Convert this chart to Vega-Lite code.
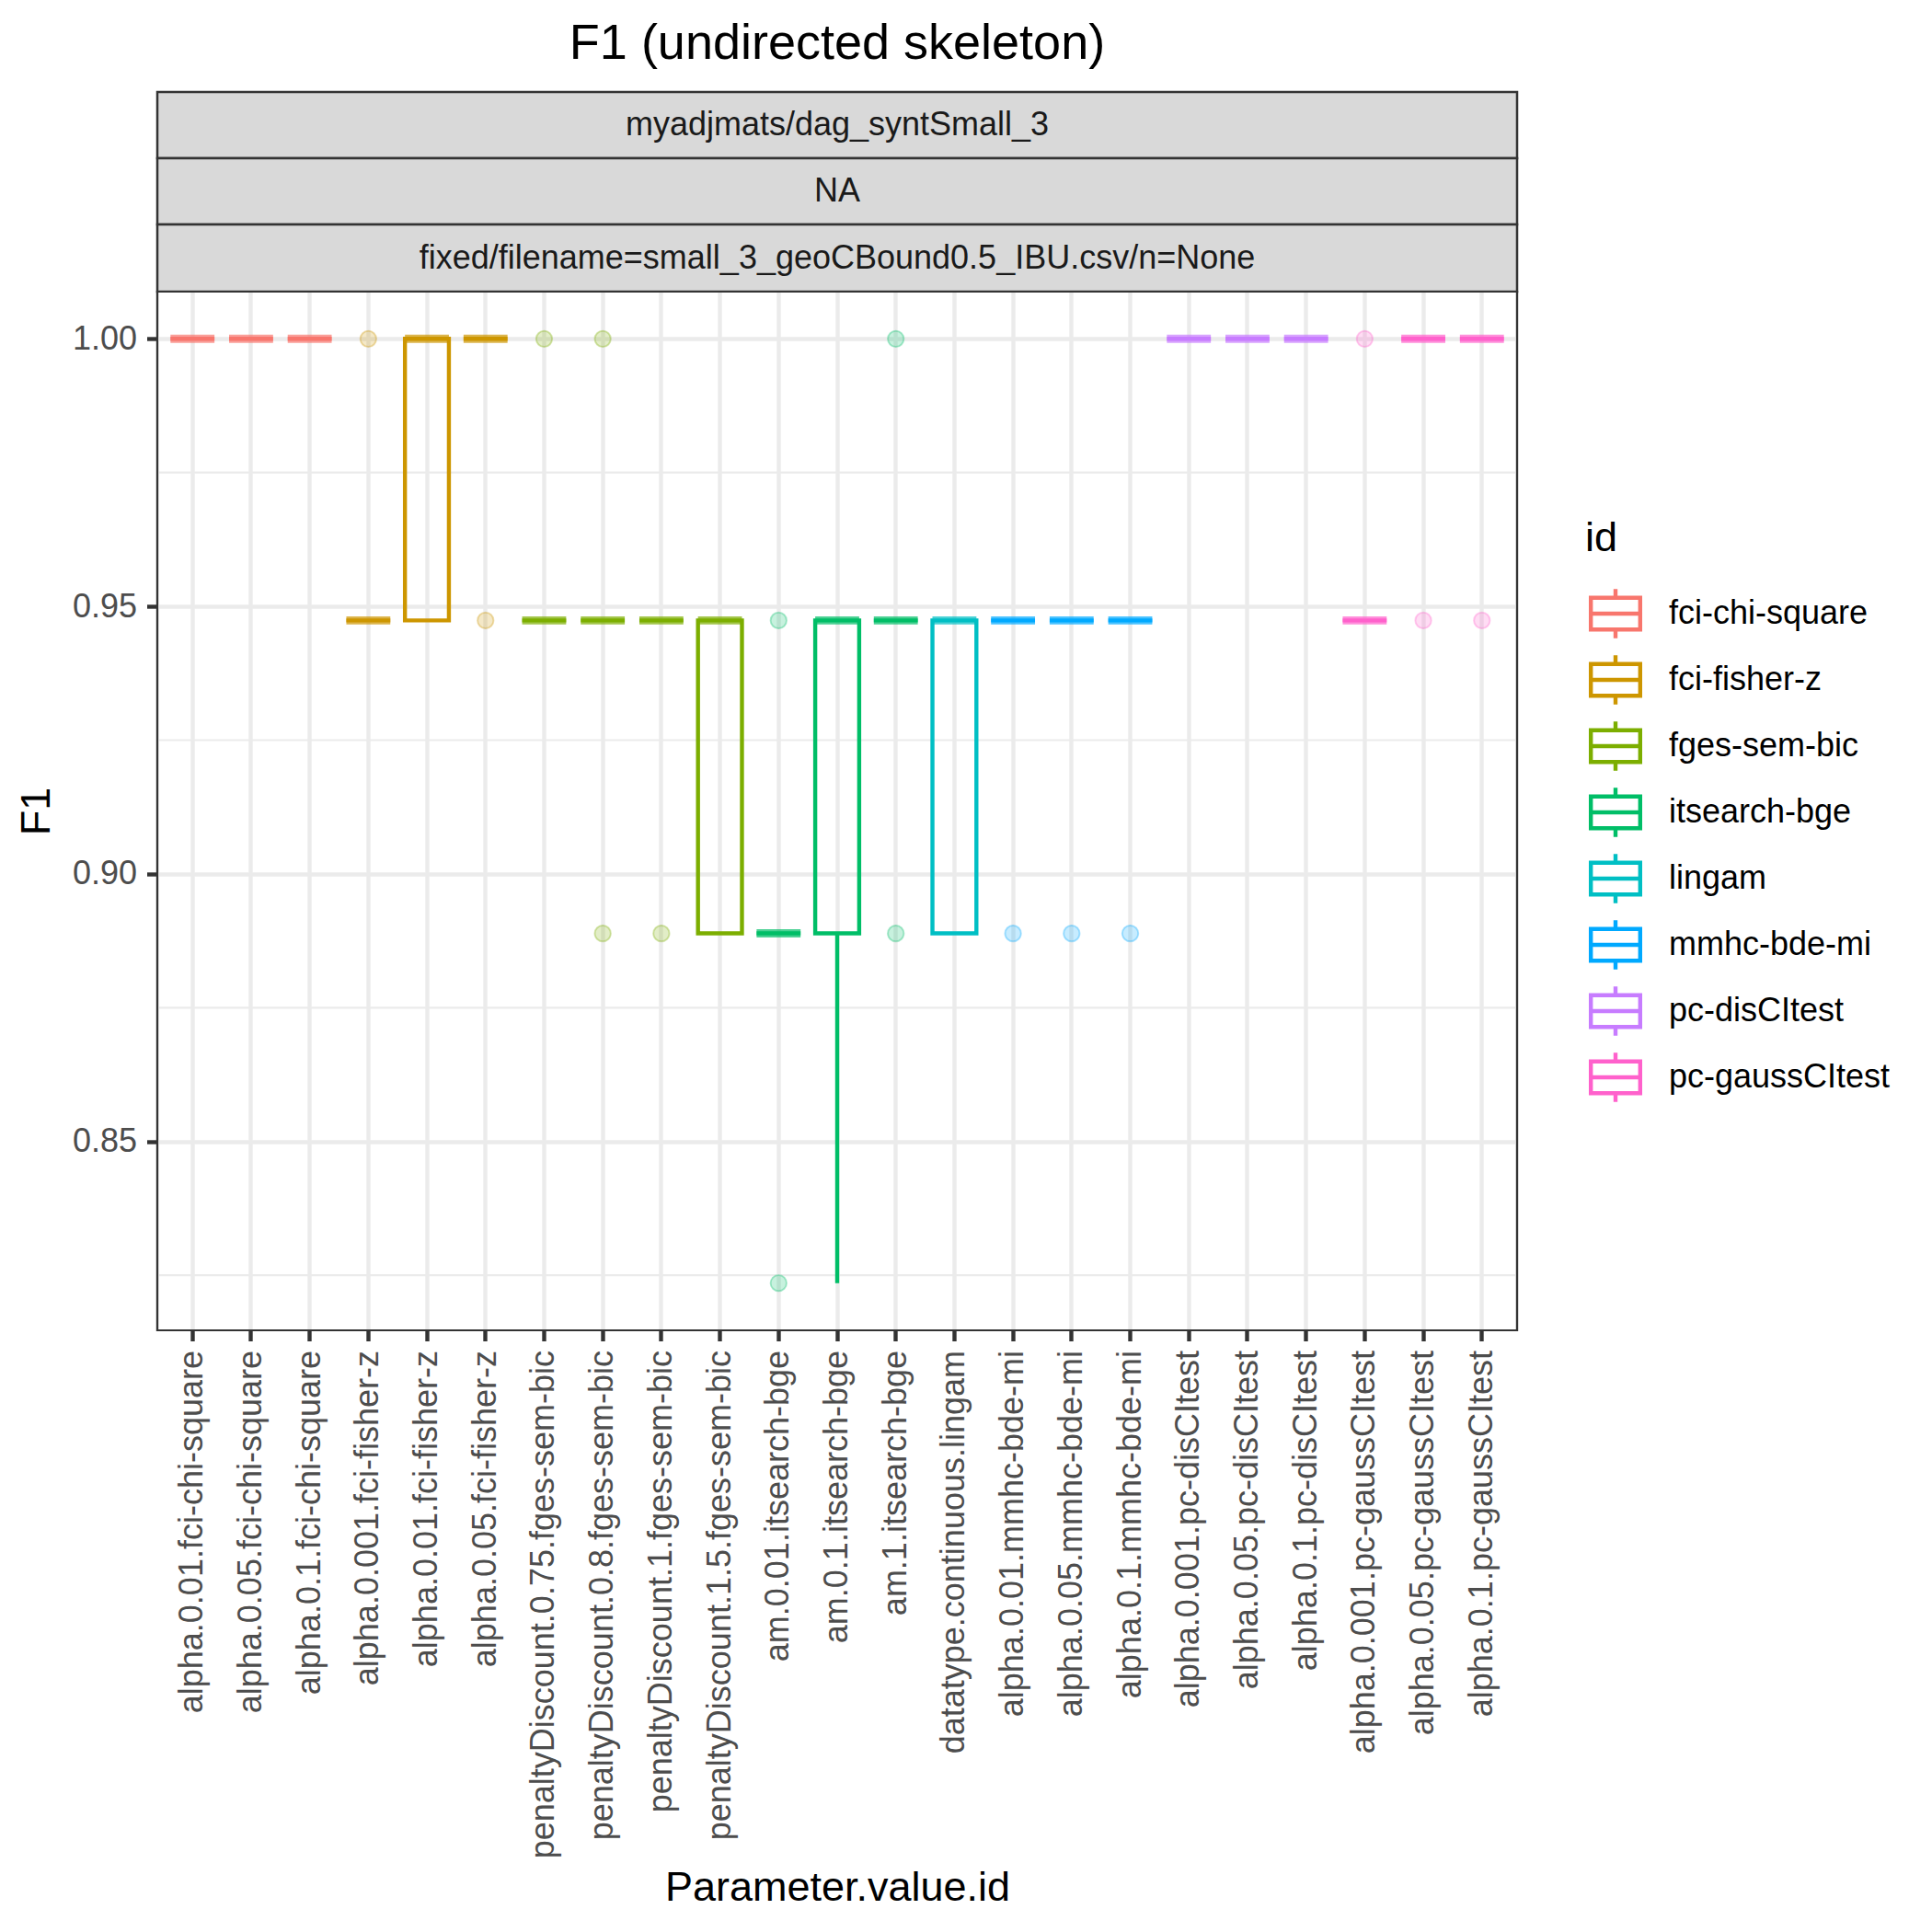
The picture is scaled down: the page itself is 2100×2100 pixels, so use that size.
{
  "$schema": "https://vega.github.io/schema/vega-lite/v6.json",
  "background": "white",
  "padding": {"left": 16, "top": 19, "right": 440, "bottom": 10},
  "config": {
    "font": "Liberation Sans",
    "view": {"stroke": null},
    "axisX": {
      "labelAngle": 270, "labelAlign": "right", "labelBaseline": "middle",
      "labelFontSize": 36, "labelColor": "#4D4D4D", "labelLimit": 2000, "labelPadding": 10,
      "labelOverlap": false, "tickColor": "#333333", "tickSize": 11.5, "tickWidth": 4.4,
      "domain": false, "grid": true, "gridColor": "#EBEBEB", "gridWidth": 4.4,
      "titleFontSize": 45, "titleFontWeight": "normal", "titleColor": "black", "titlePadding": 383
    },
    "axisY": {
      "labelFontSize": 36, "labelColor": "#4D4D4D", "labelPadding": 11,
      "tickColor": "#333333", "tickSize": 11.5, "tickWidth": 4.4,
      "domain": false, "grid": true, "gridColor": "#EBEBEB", "gridWidth": 4.4,
      "titleFontSize": 45, "titleFontWeight": "normal", "titleColor": "black", "titlePadding": 16
    }
  },
  "datasets": {
    "boxes": [
      {"param": "alpha.0.01.fci-chi-square", "id": "fci-chi-square", "lower": 1, "q1": 1, "median": 1, "q3": 1, "upper": 1},
      {"param": "alpha.0.05.fci-chi-square", "id": "fci-chi-square", "lower": 1, "q1": 1, "median": 1, "q3": 1, "upper": 1},
      {"param": "alpha.0.1.fci-chi-square", "id": "fci-chi-square", "lower": 1, "q1": 1, "median": 1, "q3": 1, "upper": 1},
      {"param": "alpha.0.001.fci-fisher-z", "id": "fci-fisher-z", "lower": 0.947368, "q1": 0.947368, "median": 0.947368, "q3": 0.947368, "upper": 0.947368},
      {"param": "alpha.0.01.fci-fisher-z", "id": "fci-fisher-z", "lower": 0.947368, "q1": 0.947368, "median": 1, "q3": 1, "upper": 1},
      {"param": "alpha.0.05.fci-fisher-z", "id": "fci-fisher-z", "lower": 1, "q1": 1, "median": 1, "q3": 1, "upper": 1},
      {"param": "penaltyDiscount.0.75.fges-sem-bic", "id": "fges-sem-bic", "lower": 0.947368, "q1": 0.947368, "median": 0.947368, "q3": 0.947368, "upper": 0.947368},
      {"param": "penaltyDiscount.0.8.fges-sem-bic", "id": "fges-sem-bic", "lower": 0.947368, "q1": 0.947368, "median": 0.947368, "q3": 0.947368, "upper": 0.947368},
      {"param": "penaltyDiscount.1.fges-sem-bic", "id": "fges-sem-bic", "lower": 0.947368, "q1": 0.947368, "median": 0.947368, "q3": 0.947368, "upper": 0.947368},
      {"param": "penaltyDiscount.1.5.fges-sem-bic", "id": "fges-sem-bic", "lower": 0.888889, "q1": 0.888889, "median": 0.947368, "q3": 0.947368, "upper": 0.947368},
      {"param": "am.0.01.itsearch-bge", "id": "itsearch-bge", "lower": 0.888889, "q1": 0.888889, "median": 0.888889, "q3": 0.888889, "upper": 0.888889},
      {"param": "am.0.1.itsearch-bge", "id": "itsearch-bge", "lower": 0.823529, "q1": 0.888889, "median": 0.947368, "q3": 0.947368, "upper": 0.947368},
      {"param": "am.1.itsearch-bge", "id": "itsearch-bge", "lower": 0.947368, "q1": 0.947368, "median": 0.947368, "q3": 0.947368, "upper": 0.947368},
      {"param": "datatype.continuous.lingam", "id": "lingam", "lower": 0.888889, "q1": 0.888889, "median": 0.947368, "q3": 0.947368, "upper": 0.947368},
      {"param": "alpha.0.01.mmhc-bde-mi", "id": "mmhc-bde-mi", "lower": 0.947368, "q1": 0.947368, "median": 0.947368, "q3": 0.947368, "upper": 0.947368},
      {"param": "alpha.0.05.mmhc-bde-mi", "id": "mmhc-bde-mi", "lower": 0.947368, "q1": 0.947368, "median": 0.947368, "q3": 0.947368, "upper": 0.947368},
      {"param": "alpha.0.1.mmhc-bde-mi", "id": "mmhc-bde-mi", "lower": 0.947368, "q1": 0.947368, "median": 0.947368, "q3": 0.947368, "upper": 0.947368},
      {"param": "alpha.0.001.pc-disCItest", "id": "pc-disCItest", "lower": 1, "q1": 1, "median": 1, "q3": 1, "upper": 1},
      {"param": "alpha.0.05.pc-disCItest", "id": "pc-disCItest", "lower": 1, "q1": 1, "median": 1, "q3": 1, "upper": 1},
      {"param": "alpha.0.1.pc-disCItest", "id": "pc-disCItest", "lower": 1, "q1": 1, "median": 1, "q3": 1, "upper": 1},
      {"param": "alpha.0.001.pc-gaussCItest", "id": "pc-gaussCItest", "lower": 0.947368, "q1": 0.947368, "median": 0.947368, "q3": 0.947368, "upper": 0.947368},
      {"param": "alpha.0.05.pc-gaussCItest", "id": "pc-gaussCItest", "lower": 1, "q1": 1, "median": 1, "q3": 1, "upper": 1},
      {"param": "alpha.0.1.pc-gaussCItest", "id": "pc-gaussCItest", "lower": 1, "q1": 1, "median": 1, "q3": 1, "upper": 1}
    ],
    "outliers": [
      {"param": "alpha.0.001.fci-fisher-z", "id": "fci-fisher-z", "F1": 1},
      {"param": "alpha.0.05.fci-fisher-z", "id": "fci-fisher-z", "F1": 0.947368},
      {"param": "penaltyDiscount.0.75.fges-sem-bic", "id": "fges-sem-bic", "F1": 1},
      {"param": "penaltyDiscount.0.8.fges-sem-bic", "id": "fges-sem-bic", "F1": 1},
      {"param": "penaltyDiscount.0.8.fges-sem-bic", "id": "fges-sem-bic", "F1": 0.888889},
      {"param": "penaltyDiscount.1.fges-sem-bic", "id": "fges-sem-bic", "F1": 0.888889},
      {"param": "am.0.01.itsearch-bge", "id": "itsearch-bge", "F1": 0.947368},
      {"param": "am.0.01.itsearch-bge", "id": "itsearch-bge", "F1": 0.823529},
      {"param": "am.1.itsearch-bge", "id": "itsearch-bge", "F1": 1},
      {"param": "am.1.itsearch-bge", "id": "itsearch-bge", "F1": 0.888889},
      {"param": "alpha.0.01.mmhc-bde-mi", "id": "mmhc-bde-mi", "F1": 0.888889},
      {"param": "alpha.0.05.mmhc-bde-mi", "id": "mmhc-bde-mi", "F1": 0.888889},
      {"param": "alpha.0.1.mmhc-bde-mi", "id": "mmhc-bde-mi", "F1": 0.888889},
      {"param": "alpha.0.001.pc-gaussCItest", "id": "pc-gaussCItest", "F1": 1},
      {"param": "alpha.0.05.pc-gaussCItest", "id": "pc-gaussCItest", "F1": 0.947368},
      {"param": "alpha.0.1.pc-gaussCItest", "id": "pc-gaussCItest", "F1": 0.947368}
    ],
    "minor": [{"g": 0.825}, {"g": 0.875}, {"g": 0.925}, {"g": 0.975}]
  },
  "spacing": 0,
  "bounds": "flush",
  "resolve": {"scale": {"color": "independent", "stroke": "independent"}, "legend": {"color": "independent", "stroke": "independent"}},
  "vconcat": [
    {
      "width": 1478, "height": 72,
      "view": {"fill": "#D9D9D9", "stroke": "#333333", "strokeWidth": 2.5},
      "title": {"text": "F1 (undirected skeleton)", "fontSize": 54, "fontWeight": "normal", "color": "black", "anchor": "middle", "offset": 25, "font": "Liberation Sans"},
      "data": {"values": [{"label": "myadjmats/dag_syntSmall_3"}]},
      "mark": {"type": "text", "fontSize": 36, "color": "#1A1A1A", "baseline": "middle", "align": "center"},
      "encoding": {"text": {"field": "label", "type": "nominal"}}
    },
    {
      "width": 1478, "height": 72,
      "view": {"fill": "#D9D9D9", "stroke": "#333333", "strokeWidth": 2.5},
      "data": {"values": [{"label": "NA"}]},
      "mark": {"type": "text", "fontSize": 36, "color": "#1A1A1A", "baseline": "middle", "align": "center"},
      "encoding": {"text": {"field": "label", "type": "nominal"}}
    },
    {
      "width": 1478, "height": 73,
      "view": {"fill": "#D9D9D9", "stroke": "#333333", "strokeWidth": 2.5},
      "data": {"values": [{"label": "fixed/filename=small_3_geoCBound0.5_IBU.csv/n=None"}]},
      "mark": {"type": "text", "fontSize": 36, "color": "#1A1A1A", "baseline": "middle", "align": "center"},
      "encoding": {"text": {"field": "label", "type": "nominal"}}
    },
    {
      "width": 1478, "height": 1129,
      "view": {"fill": "white", "stroke": "#333333", "strokeWidth": 2.2},
      "layer": [
        {
          "data": {"name": "minor"},
          "mark": {"type": "rule", "color": "#EBEBEB", "strokeWidth": 2.2},
          "encoding": {
            "y": {"field": "g", "type": "quantitative", "title": "F1", "scale": {"domain": [0.81471, 1.00882], "nice": false, "zero": false}, "axis": {"values": [0.85, 0.9, 0.95, 1.0], "format": ".2f"}}
          }
        },
        {
          "data": {"name": "boxes"},
          "mark": {"type": "bar", "filled": false, "fill": "transparent", "width": {"band": 0.75}, "strokeWidth": 4.4, "strokeJoin": "miter"},
          "encoding": {
            "x": {"field": "param", "type": "nominal", "title": "Parameter.value.id", "sort": null, "scale": {"domain": ["alpha.0.01.fci-chi-square","alpha.0.05.fci-chi-square","alpha.0.1.fci-chi-square","alpha.0.001.fci-fisher-z","alpha.0.01.fci-fisher-z","alpha.0.05.fci-fisher-z","penaltyDiscount.0.75.fges-sem-bic","penaltyDiscount.0.8.fges-sem-bic","penaltyDiscount.1.fges-sem-bic","penaltyDiscount.1.5.fges-sem-bic","am.0.01.itsearch-bge","am.0.1.itsearch-bge","am.1.itsearch-bge","datatype.continuous.lingam","alpha.0.01.mmhc-bde-mi","alpha.0.05.mmhc-bde-mi","alpha.0.1.mmhc-bde-mi","alpha.0.001.pc-disCItest","alpha.0.05.pc-disCItest","alpha.0.1.pc-disCItest","alpha.0.001.pc-gaussCItest","alpha.0.05.pc-gaussCItest","alpha.0.1.pc-gaussCItest"], "paddingInner": 0, "paddingOuter": 0.1}},
            "y": {"field": "q1", "type": "quantitative", "title": "F1", "scale": {"domain": [0.81471, 1.00882], "nice": false, "zero": false}, "axis": {"values": [0.85, 0.9, 0.95, 1.0], "format": ".2f"}},
            "y2": {"field": "q3"},
            "stroke": {"field": "id", "type": "nominal", "scale": {"domain": ["fci-chi-square","fci-fisher-z","fges-sem-bic","itsearch-bge","lingam","mmhc-bde-mi","pc-disCItest","pc-gaussCItest"], "range": ["#F8766D","#CD9600","#7CAE00","#00BE67","#00BFC4","#00A9FF","#C77CFF","#FF61CC"]},
              "legend": {"title": "id", "orient": "none", "legendX": 1552, "legendY": 246, "padding": 0,
                "titleFontSize": 45, "titleFontWeight": "normal", "titleColor": "black", "titlePadding": 26,
                "labelFontSize": 36, "labelColor": "black", "labelOffset": 25, "labelLimit": 1000, "rowPadding": 0,
                "symbolType": "M-0.876,-0.565H0.876V0.565H-0.876Z M0,-0.565V-0.872 M0,0.565V0.872 M-0.876,0H0.876",
                "symbolSize": 3745, "symbolStrokeWidth": 4.4, "symbolFillColor": "transparent", "symbolOpacity": 1,
                "encode": {"symbols": {"fill": {"value": "transparent"}, "opacity": {"value": 1}, "strokeWidth": {"value": 4.4}}}}}
          }
        },
        {
          "data": {"name": "boxes"},
          "mark": {"type": "rule", "strokeWidth": 4.4},
          "encoding": {
            "x": {"field": "param", "type": "nominal", "title": "Parameter.value.id", "sort": null, "scale": {"domain": ["alpha.0.01.fci-chi-square","alpha.0.05.fci-chi-square","alpha.0.1.fci-chi-square","alpha.0.001.fci-fisher-z","alpha.0.01.fci-fisher-z","alpha.0.05.fci-fisher-z","penaltyDiscount.0.75.fges-sem-bic","penaltyDiscount.0.8.fges-sem-bic","penaltyDiscount.1.fges-sem-bic","penaltyDiscount.1.5.fges-sem-bic","am.0.01.itsearch-bge","am.0.1.itsearch-bge","am.1.itsearch-bge","datatype.continuous.lingam","alpha.0.01.mmhc-bde-mi","alpha.0.05.mmhc-bde-mi","alpha.0.1.mmhc-bde-mi","alpha.0.001.pc-disCItest","alpha.0.05.pc-disCItest","alpha.0.1.pc-disCItest","alpha.0.001.pc-gaussCItest","alpha.0.05.pc-gaussCItest","alpha.0.1.pc-gaussCItest"], "paddingInner": 0, "paddingOuter": 0.1}},
            "y": {"field": "lower", "type": "quantitative", "title": "F1", "scale": {"domain": [0.81471, 1.00882], "nice": false, "zero": false}, "axis": {"values": [0.85, 0.9, 0.95, 1.0], "format": ".2f"}},
            "y2": {"field": "q1"},
            "color": {"field": "id", "type": "nominal", "scale": {"domain": ["pc-gaussCItest","pc-disCItest","mmhc-bde-mi","lingam","itsearch-bge","fges-sem-bic","fci-fisher-z","fci-chi-square"], "range": ["#FF61CC","#C77CFF","#00A9FF","#00BFC4","#00BE67","#7CAE00","#CD9600","#F8766D"]}, "legend": null}
          }
        },
        {
          "data": {"name": "boxes"},
          "mark": {"type": "rule", "strokeWidth": 4.4},
          "encoding": {
            "x": {"field": "param", "type": "nominal", "title": "Parameter.value.id", "sort": null, "scale": {"domain": ["alpha.0.01.fci-chi-square","alpha.0.05.fci-chi-square","alpha.0.1.fci-chi-square","alpha.0.001.fci-fisher-z","alpha.0.01.fci-fisher-z","alpha.0.05.fci-fisher-z","penaltyDiscount.0.75.fges-sem-bic","penaltyDiscount.0.8.fges-sem-bic","penaltyDiscount.1.fges-sem-bic","penaltyDiscount.1.5.fges-sem-bic","am.0.01.itsearch-bge","am.0.1.itsearch-bge","am.1.itsearch-bge","datatype.continuous.lingam","alpha.0.01.mmhc-bde-mi","alpha.0.05.mmhc-bde-mi","alpha.0.1.mmhc-bde-mi","alpha.0.001.pc-disCItest","alpha.0.05.pc-disCItest","alpha.0.1.pc-disCItest","alpha.0.001.pc-gaussCItest","alpha.0.05.pc-gaussCItest","alpha.0.1.pc-gaussCItest"], "paddingInner": 0, "paddingOuter": 0.1}},
            "y": {"field": "q3", "type": "quantitative", "title": "F1", "scale": {"domain": [0.81471, 1.00882], "nice": false, "zero": false}, "axis": {"values": [0.85, 0.9, 0.95, 1.0], "format": ".2f"}},
            "y2": {"field": "upper"},
            "color": {"field": "id", "type": "nominal", "scale": {"domain": ["pc-gaussCItest","pc-disCItest","mmhc-bde-mi","lingam","itsearch-bge","fges-sem-bic","fci-fisher-z","fci-chi-square"], "range": ["#FF61CC","#C77CFF","#00A9FF","#00BFC4","#00BE67","#7CAE00","#CD9600","#F8766D"]}, "legend": null}
          }
        },
        {
          "data": {"name": "boxes"},
          "mark": {"type": "tick", "thickness": 8.9, "size": 47.8},
          "encoding": {
            "x": {"field": "param", "type": "nominal", "title": "Parameter.value.id", "sort": null, "scale": {"domain": ["alpha.0.01.fci-chi-square","alpha.0.05.fci-chi-square","alpha.0.1.fci-chi-square","alpha.0.001.fci-fisher-z","alpha.0.01.fci-fisher-z","alpha.0.05.fci-fisher-z","penaltyDiscount.0.75.fges-sem-bic","penaltyDiscount.0.8.fges-sem-bic","penaltyDiscount.1.fges-sem-bic","penaltyDiscount.1.5.fges-sem-bic","am.0.01.itsearch-bge","am.0.1.itsearch-bge","am.1.itsearch-bge","datatype.continuous.lingam","alpha.0.01.mmhc-bde-mi","alpha.0.05.mmhc-bde-mi","alpha.0.1.mmhc-bde-mi","alpha.0.001.pc-disCItest","alpha.0.05.pc-disCItest","alpha.0.1.pc-disCItest","alpha.0.001.pc-gaussCItest","alpha.0.05.pc-gaussCItest","alpha.0.1.pc-gaussCItest"], "paddingInner": 0, "paddingOuter": 0.1}},
            "y": {"field": "median", "type": "quantitative", "title": "F1", "scale": {"domain": [0.81471, 1.00882], "nice": false, "zero": false}, "axis": {"values": [0.85, 0.9, 0.95, 1.0], "format": ".2f"}},
            "color": {"field": "id", "type": "nominal", "scale": {"domain": ["pc-gaussCItest","pc-disCItest","mmhc-bde-mi","lingam","itsearch-bge","fges-sem-bic","fci-fisher-z","fci-chi-square"], "range": ["#FF61CC","#C77CFF","#00A9FF","#00BFC4","#00BE67","#7CAE00","#CD9600","#F8766D"]}, "legend": null}
          }
        },
        {
          "data": {"name": "outliers"},
          "mark": {"type": "point", "shape": "circle", "filled": true, "size": 324, "opacity": 0.22, "strokeWidth": 0},
          "encoding": {
            "x": {"field": "param", "type": "nominal", "title": "Parameter.value.id", "sort": null, "scale": {"domain": ["alpha.0.01.fci-chi-square","alpha.0.05.fci-chi-square","alpha.0.1.fci-chi-square","alpha.0.001.fci-fisher-z","alpha.0.01.fci-fisher-z","alpha.0.05.fci-fisher-z","penaltyDiscount.0.75.fges-sem-bic","penaltyDiscount.0.8.fges-sem-bic","penaltyDiscount.1.fges-sem-bic","penaltyDiscount.1.5.fges-sem-bic","am.0.01.itsearch-bge","am.0.1.itsearch-bge","am.1.itsearch-bge","datatype.continuous.lingam","alpha.0.01.mmhc-bde-mi","alpha.0.05.mmhc-bde-mi","alpha.0.1.mmhc-bde-mi","alpha.0.001.pc-disCItest","alpha.0.05.pc-disCItest","alpha.0.1.pc-disCItest","alpha.0.001.pc-gaussCItest","alpha.0.05.pc-gaussCItest","alpha.0.1.pc-gaussCItest"], "paddingInner": 0, "paddingOuter": 0.1}},
            "y": {"field": "F1", "type": "quantitative", "title": "F1", "scale": {"domain": [0.81471, 1.00882], "nice": false, "zero": false}, "axis": {"values": [0.85, 0.9, 0.95, 1.0], "format": ".2f"}},
            "color": {"field": "id", "type": "nominal", "scale": {"domain": ["pc-gaussCItest","pc-disCItest","mmhc-bde-mi","lingam","itsearch-bge","fges-sem-bic","fci-fisher-z","fci-chi-square"], "range": ["#FF61CC","#C77CFF","#00A9FF","#00BFC4","#00BE67","#7CAE00","#CD9600","#F8766D"]}, "legend": null}
          }
        },
        {
          "data": {"name": "outliers"},
          "mark": {"type": "point", "shape": "circle", "filled": false, "size": 300, "opacity": 0.28, "strokeWidth": 2},
          "encoding": {
            "x": {"field": "param", "type": "nominal", "title": "Parameter.value.id", "sort": null, "scale": {"domain": ["alpha.0.01.fci-chi-square","alpha.0.05.fci-chi-square","alpha.0.1.fci-chi-square","alpha.0.001.fci-fisher-z","alpha.0.01.fci-fisher-z","alpha.0.05.fci-fisher-z","penaltyDiscount.0.75.fges-sem-bic","penaltyDiscount.0.8.fges-sem-bic","penaltyDiscount.1.fges-sem-bic","penaltyDiscount.1.5.fges-sem-bic","am.0.01.itsearch-bge","am.0.1.itsearch-bge","am.1.itsearch-bge","datatype.continuous.lingam","alpha.0.01.mmhc-bde-mi","alpha.0.05.mmhc-bde-mi","alpha.0.1.mmhc-bde-mi","alpha.0.001.pc-disCItest","alpha.0.05.pc-disCItest","alpha.0.1.pc-disCItest","alpha.0.001.pc-gaussCItest","alpha.0.05.pc-gaussCItest","alpha.0.1.pc-gaussCItest"], "paddingInner": 0, "paddingOuter": 0.1}},
            "y": {"field": "F1", "type": "quantitative", "title": "F1", "scale": {"domain": [0.81471, 1.00882], "nice": false, "zero": false}, "axis": {"values": [0.85, 0.9, 0.95, 1.0], "format": ".2f"}},
            "color": {"field": "id", "type": "nominal", "scale": {"domain": ["pc-gaussCItest","pc-disCItest","mmhc-bde-mi","lingam","itsearch-bge","fges-sem-bic","fci-fisher-z","fci-chi-square"], "range": ["#FF61CC","#C77CFF","#00A9FF","#00BFC4","#00BE67","#7CAE00","#CD9600","#F8766D"]}, "legend": null}
          }
        },
        {
          "data": {"values": [{}]},
          "mark": {"type": "rect", "fill": null, "filled": false, "stroke": "#333333", "strokeWidth": 2.2}
        }
      ]
    }
  ]
}
